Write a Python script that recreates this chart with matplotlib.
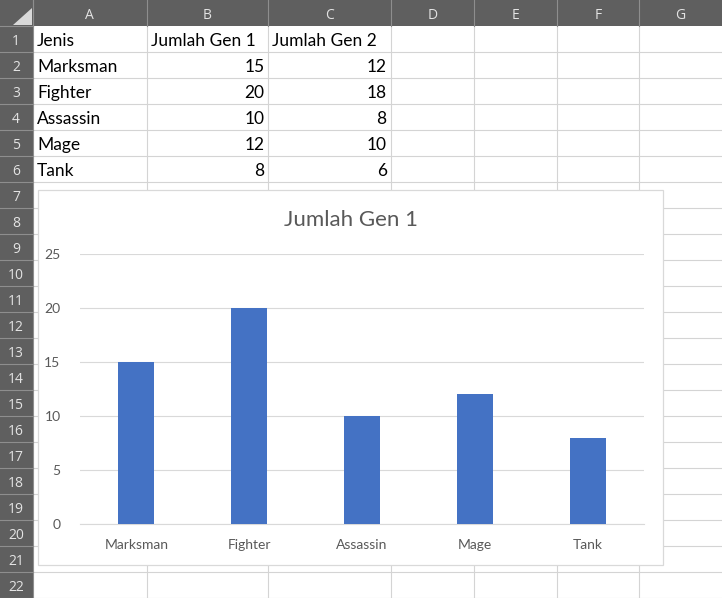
import matplotlib
matplotlib.use("Agg")
import matplotlib.pyplot as plt
from matplotlib.patches import Rectangle, Polygon

# ---- data ----
header = ["Jenis", "Jumlah Gen 1", "Jumlah Gen 2"]
categories = ["Marksman", "Fighter", "Assassin", "Mage", "Tank"]
gen1 = [15, 20, 10, 12, 8]
gen2 = [12, 18, 8, 10, 6]
col_letters = ["A", "B", "C", "D", "E", "F", "G"]
chart_title = "Jumlah Gen 1"
y_ticks = [0, 5, 10, 15, 20, 25]

W, H = 722, 598
fig = plt.figure(figsize=(W / 100, H / 100), dpi=100)
fig.patch.set_facecolor("white")

bg = fig.add_axes([0, 0, 1, 1])
bg.set_xlim(0, W)
bg.set_ylim(H, 0)
bg.axis("off")

col_edges = [33, 146.7, 268.3, 390.7, 473.7, 556.7, 639.3, 722]
row_h = 26
hdr_h = 26
n_rows = 22
grid_c = "#d4d4d4"
hdr_bg = "#5f5f5f"
hdr_sep = "#8e8e8e"
hdr_txt = "#e3e3e3"

# grid lines
for x in col_edges[1:-1]:
    bg.plot([x, x], [hdr_h, H], color=grid_c, lw=0.8, zorder=1)
for r in range(1, n_rows + 1):
    y = hdr_h + r * row_h
    bg.plot([col_edges[0], W], [y, y], color=grid_c, lw=0.8, zorder=1)

# headers
bg.add_patch(Rectangle((0, 0), W, hdr_h, facecolor=hdr_bg, edgecolor="none", zorder=2))
bg.add_patch(Rectangle((0, 0), col_edges[0], H, facecolor=hdr_bg, edgecolor="none", zorder=2))
for x in col_edges[:-1]:
    bg.plot([x, x], [0, hdr_h], color=hdr_sep, lw=0.8, zorder=3)
for r in range(0, n_rows + 1):
    y = hdr_h + r * row_h
    bg.plot([0, col_edges[0]], [y, y], color=hdr_sep, lw=0.8, zorder=3)
bg.plot([col_edges[0], col_edges[0]], [0, H], color=hdr_sep, lw=0.8, zorder=3)
bg.add_patch(Polygon([[13, 25], [32, 8], [32, 25]], closed=True,
                     facecolor="#d9d9d9", edgecolor="none", zorder=3))

hfont = dict(family="Open Sans", fontsize=10, color=hdr_txt)
for i, L in enumerate(col_letters):
    cx = (col_edges[i] + col_edges[i + 1]) / 2
    bg.text(cx, 19.3, L, ha="center", va="baseline", zorder=4, **hfont)
for r in range(n_rows):
    bg.text(16, hdr_h + r * row_h + 19.3, str(r + 1), ha="center", va="baseline",
            zorder=4, **hfont)

# cell text
cfont = dict(family="Lato", fontsize=12.5, color="#000000")
pad = 4
def baseline(r):
    return hdr_h + r * row_h + 20.4

for j, h in enumerate(header):
    bg.text(col_edges[j] + pad, baseline(0), h, ha="left", va="baseline", zorder=4, **cfont)
for i, c in enumerate(categories):
    bg.text(col_edges[0] + pad, baseline(i + 1), c, ha="left", va="baseline", zorder=4, **cfont)
    bg.text(col_edges[2] - pad, baseline(i + 1), str(gen1[i]), ha="right", va="baseline",
            zorder=4, **cfont)
    bg.text(col_edges[3] - pad, baseline(i + 1), str(gen2[i]), ha="right", va="baseline",
            zorder=4, **cfont)

# chart box
bx0, by0, bx1, by1 = 38, 190, 663, 565
bg.add_patch(Rectangle((bx0, by0), bx1 - bx0, by1 - by0, facecolor="white",
                       edgecolor="#d9d9d9", lw=0.9, zorder=5))
bg.text((bx0 + bx1) / 2, 226, chart_title, ha="center", va="baseline", zorder=6,
        family="Lato", fontsize=16, color="#595959")

# chart plot area
px0, px1, py_top, py_bot = 80, 644, 254, 524
ax = fig.add_axes([px0 / W, 1 - py_bot / H, (px1 - px0) / W, (py_bot - py_top) / H])
ax.set_zorder(10)
ax.patch.set_alpha(0)
xs = list(range(len(categories)))
ax.bar(xs, gen1, width=0.32, color="#4472C4", zorder=3)
ax.set_xlim(-0.5, len(categories) - 0.5)
ax.set_ylim(0, 25)
ax.set_yticks(y_ticks)
ax.set_xticks(xs)
ax.set_xticklabels(categories)
ax.grid(axis="y", color="#d9d9d9", lw=0.8, zorder=0)
ax.set_axisbelow(True)
for s in ["top", "right", "left"]:
    ax.spines[s].set_visible(False)
ax.spines["bottom"].set_color("#d9d9d9")
ax.spines["bottom"].set_linewidth(0.8)
ax.tick_params(axis="both", length=0, labelcolor="#595959", labelsize=10)
ax.tick_params(axis="y", pad=14)
ax.tick_params(axis="x", pad=11)
for lab in ax.get_xticklabels() + ax.get_yticklabels():
    lab.set_family("Lato")

fig.savefig("out.png", dpi=100)
